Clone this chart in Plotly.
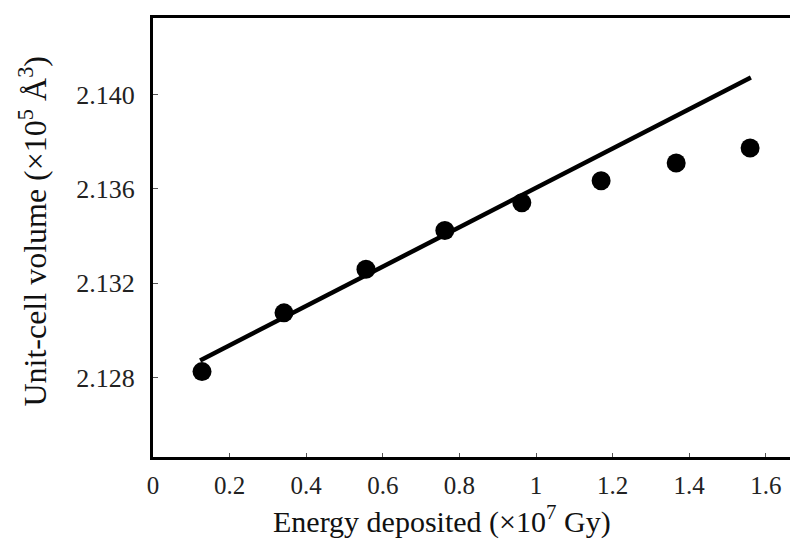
import plotly.graph_objects as go

# Data
energy = [0.128, 0.342, 0.556, 0.762, 0.963, 1.170, 1.366, 1.559]
volume = [2.12825, 2.13074, 2.13259, 2.13423, 2.13541, 2.13634, 2.13709, 2.13773]
fit_x = [0.123, 1.561]
fit_y = [2.12872, 2.14072]

x_ticks = [0, 0.2, 0.4, 0.6, 0.8, 1, 1.2, 1.4, 1.6]
x_ticklabels = ["0", "0.2", "0.4", "0.6", "0.8", "1", "1.2", "1.4", "1.6"]
y_ticks = [2.128, 2.132, 2.136, 2.140]
y_ticklabels = ["2.128", "2.132", "2.136", "2.140"]

FONT = "Liberation Serif, Times New Roman, serif"

fig = go.Figure()
fig.add_trace(go.Scatter(x=fit_x, y=fit_y, mode="lines",
                         line=dict(color="black", width=4.5), showlegend=False))
fig.add_trace(go.Scatter(x=energy, y=volume, mode="markers",
                         marker=dict(color="black", size=19), showlegend=False))

fig.update_layout(
    width=798, height=546,
    margin=dict(l=145, r=13, t=7, b=97),
    paper_bgcolor="white", plot_bgcolor="white",
    font=dict(family=FONT, color="#111"),
    xaxis=dict(range=[0, 1.671], tickvals=x_ticks, ticktext=x_ticklabels,
               showgrid=False, zeroline=False, showline=True, linecolor="black",
               linewidth=3, mirror=True, ticks="inside", ticklen=4, tickwidth=1,
               tickcolor="#555", tickfont=dict(size=25, family=FONT, color="#222"),
               ticklabelstandoff=4),
    yaxis=dict(range=[2.12463, 2.14324], tickvals=y_ticks, ticktext=y_ticklabels,
               showgrid=False, zeroline=False, showline=True, linecolor="black",
               linewidth=3, mirror=False, ticks="inside", ticklen=5, tickwidth=1,
               tickcolor="#555", tickfont=dict(size=26, family=FONT, color="#222"),
               ticklabelstandoff=10),
    annotations=[
        dict(text="Energy deposited (×10<sup>7</sup> Gy)", xref="paper", yref="paper",
             x=0.452, y=-0.1425, xanchor="center", yanchor="middle", showarrow=False,
             font=dict(size=30, family=FONT, color="#111")),
        dict(text="Unit-cell volume (×10<sup>5</sup> Å<sup>3</sup>)", xref="paper", yref="paper",
             x=-0.188, y=0.515, xanchor="center", yanchor="middle", showarrow=False,
             textangle=-90, font=dict(size=32, family=FONT, color="#111")),
    ],
)

fig.write_html("out.html")
